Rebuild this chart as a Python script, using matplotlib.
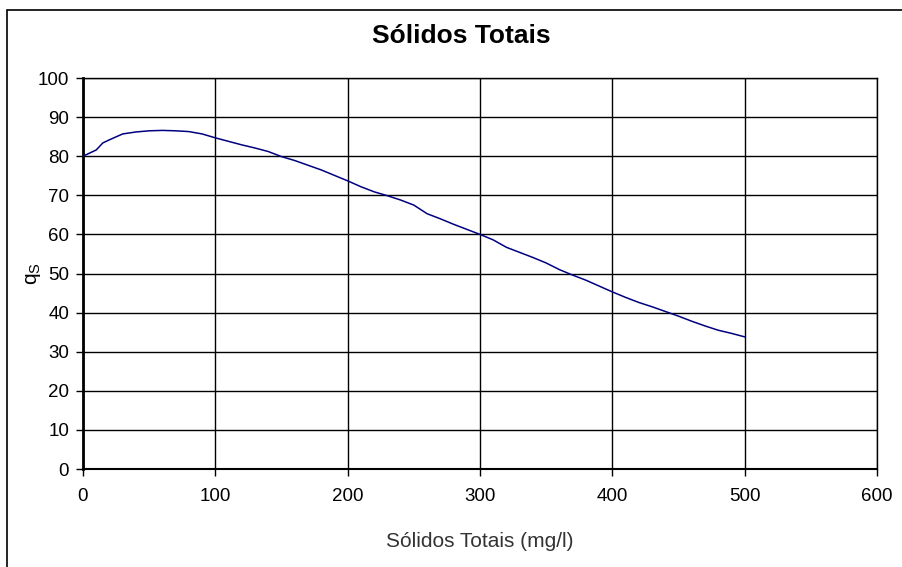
import matplotlib.pyplot as plt
from matplotlib.patches import Rectangle

plt.rcParams['font.family'] = ['Liberation Sans', 'DejaVu Sans']

# sólidos totais (mg/l) vs q_s
st = [0, 10, 15, 20, 30, 40, 50, 60, 70, 80, 90, 100, 110, 120, 130, 140, 150,
      160, 170, 180, 190, 200, 210, 220, 230, 240, 250, 260, 270, 280, 290,
      300, 310, 320, 330, 340, 350, 360, 370, 380, 390, 400, 410, 420, 430,
      440, 450, 460, 470, 480, 490, 500]
qs = [80.0, 81.6, 83.4, 84.2, 85.7, 86.2, 86.5, 86.6, 86.5, 86.3, 85.7, 84.7,
      83.8, 82.9, 82.1, 81.2, 79.9, 78.9, 77.7, 76.5, 75.1, 73.7, 72.2, 70.9,
      69.9, 68.8, 67.5, 65.3, 64.0, 62.6, 61.3, 60.0, 58.6, 56.7, 55.4, 54.1,
      52.7, 51.0, 49.6, 48.3, 46.8, 45.3, 43.9, 42.6, 41.5, 40.3, 39.1, 37.8,
      36.6, 35.5, 34.7, 33.8]

xticks = [0, 100, 200, 300, 400, 500, 600]
yticks = list(range(0, 101, 10))

fig = plt.figure(figsize=(9.03, 5.67), dpi=100)
ax = fig.add_axes([0.0919, 0.1728, 0.8793, 0.6896])

# moldura do gráfico
fig.patches.append(Rectangle((7 / 903, -0.1), 1.1, 1 - 10 / 567 + 0.1,
                             transform=fig.transFigure, fill=False,
                             edgecolor='black', linewidth=1.2))

ax.plot(st, qs, color='#000080', linewidth=1.1, zorder=3)

ax.set_xlim(0, 600)
ax.set_ylim(0, 100)
ax.set_xticks(xticks)
ax.set_yticks(yticks)
ax.grid(True, color='black', linewidth=1.0)
ax.set_axisbelow(True)
for s in ax.spines.values():
    s.set_color('black')
    s.set_linewidth(1.0)
ax.spines['left'].set_linewidth(2.0)
ax.spines['bottom'].set_linewidth(1.5)
ax.tick_params(direction='out', length=5, width=1, labelsize=13.5,
               colors='black')
ax.tick_params(axis='x', pad=9)
ax.tick_params(axis='y', pad=5)

ax.set_xlabel('Sólidos Totais (mg/l)', fontsize=15, color='#333333',
              labelpad=19)
ax.set_ylabel(r'q$_\mathregular{S}$', fontsize=15)
ax.yaxis.set_label_coords(-0.05, 0.5)
fig.text(0.511, 0.936, 'Sólidos Totais', ha='center', va='center',
         fontsize=19, fontweight='bold')

fig.savefig('out.png', dpi=100)
